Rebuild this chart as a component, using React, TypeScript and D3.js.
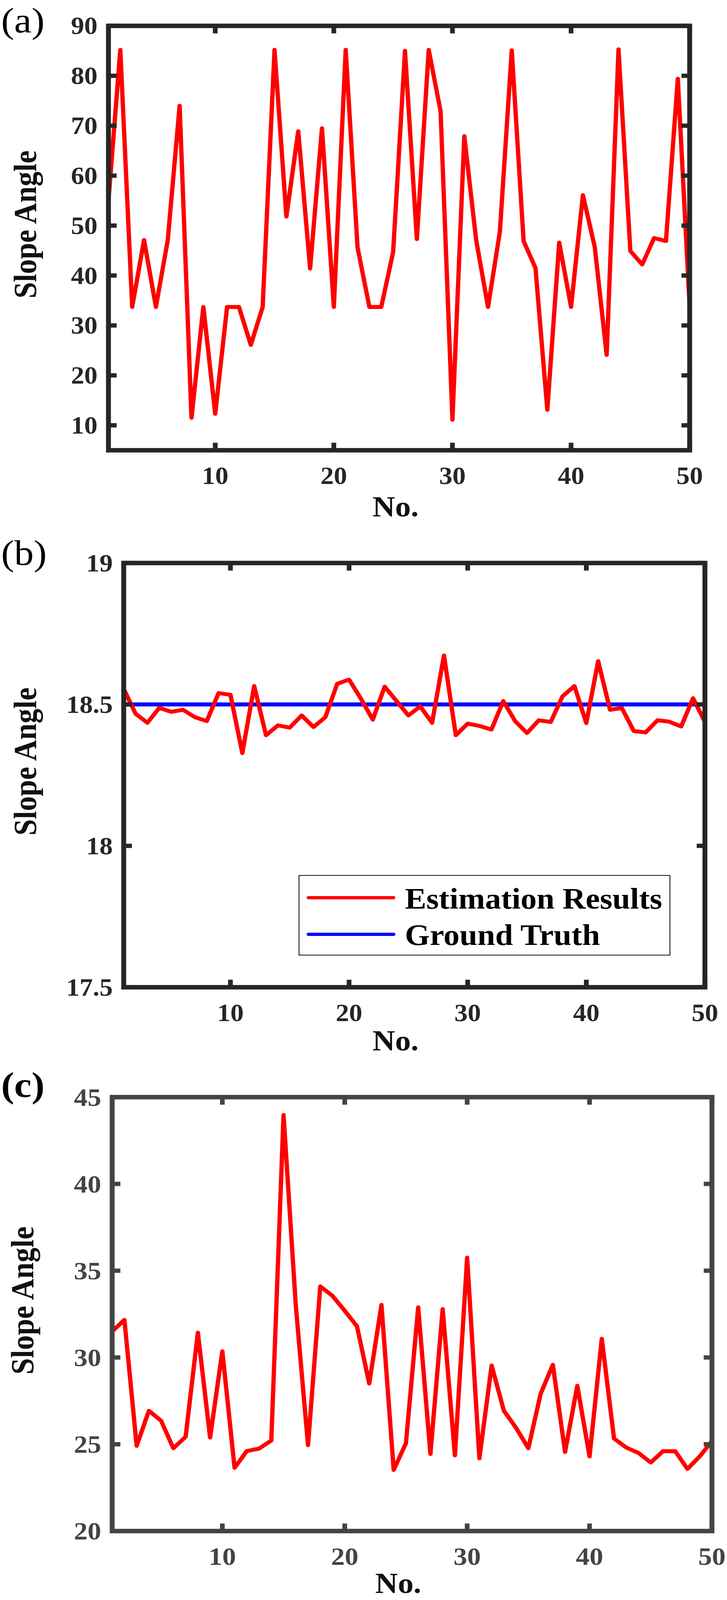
import * as d3 from "d3";

// ---- data ----
const xTicks = [10, 20, 30, 40, 50];

const slopeA = [
  55.0, 85.2, 33.7, 47.1, 33.7, 47.1, 74.0, 11.5, 33.7, 12.3,
  33.7, 33.7, 26.1, 33.7, 85.2, 51.8, 68.9, 41.4, 69.5, 33.7,
  85.2, 45.6, 33.7, 33.7, 44.7, 85.0, 47.3, 85.2, 72.9, 11.1,
  67.9, 47.1, 33.7, 48.8, 85.1, 46.9, 41.5, 13.1, 46.6, 33.7,
  56.1, 45.7, 24.1, 85.3, 44.9, 42.2, 47.5, 46.9, 79.4, 33.7,
];
const yTicksA = [10, 20, 30, 40, 50, 60, 70, 80, 90];

const estimationB = [
  18.555, 18.467, 18.435, 18.488, 18.474, 18.481, 18.455, 18.441, 18.54, 18.534,
  18.328, 18.565, 18.391, 18.426, 18.418, 18.461, 18.42, 18.455, 18.573, 18.588,
  18.52, 18.446, 18.563, 18.512, 18.461, 18.493, 18.435, 18.673, 18.391, 18.432,
  18.424, 18.411, 18.512, 18.441, 18.399, 18.444, 18.438, 18.529, 18.565, 18.434,
  18.653, 18.481, 18.487, 18.406, 18.401, 18.444, 18.439, 18.422, 18.522, 18.438,
];
const groundTruthB = 18.5;
const yTicksB = [17.5, 18, 18.5, 19];
const legendB = ["Estimation Results", "Ground Truth"];

const slopeC = [
  31.5, 32.17, 24.91, 26.93, 26.35, 24.77, 25.43, 31.43, 25.39, 30.36,
  23.64, 24.61, 24.75, 25.22, 43.97, 33.0, 24.95, 34.1, 33.55, 32.69,
  31.8, 28.5, 33.03, 23.52, 25.06, 32.89, 24.44, 32.79, 24.36, 35.75,
  24.19, 29.54, 26.93, 25.94, 24.77, 27.9, 29.58, 24.56, 28.37, 24.3,
  31.08, 25.33, 24.81, 24.5, 23.95, 24.6, 24.6, 23.58, 24.3, 25.18,
];
const yTicksC = [20, 25, 30, 35, 40, 45];

const W = 1860;
const H = 4456;
const SERIF = "'Liberation Serif', 'Times New Roman', serif";

type Box = { left: number; right: number; top: number; bottom: number };

function Panel(props: {
  id: string;
  tag: string;
  tagY: number;
  tagBold?: boolean;
  box: Box;
  yDomain: [number, number];
  yTicks: number[];
  series: number[];
  truth?: number;
  axisColor: string;
  tickFont: number;
  xLabelX: number;
  xLabelY: number;
  yLabelX: number;
  legend?: boolean;
}) {
  const { box } = props;
  const x = d3.scaleLinear().domain([1, 50]).range([box.left, box.right]);
  const y = d3.scaleLinear().domain(props.yDomain).range([box.bottom, box.top]);
  const line = d3
    .line<number>()
    .x((_, i) => x(i + 1))
    .y((d) => y(d));
  const tickLen = 21;
  const midY = (box.top + box.bottom) / 2 - 38;

  return (
    <g>
      <defs>
        <clipPath id={`clip-${props.id}`}>
          <rect x={box.left} y={box.top} width={box.right - box.left} height={box.bottom - box.top} />
        </clipPath>
      </defs>

      <text
        x={3}
        y={props.tagY}
        fontFamily={SERIF}
        fontSize={100}
        fontWeight={props.tagBold ? "bold" : "normal"}
        fill="#000"
      >
        {props.tag}
      </text>

      <g clipPath={`url(#clip-${props.id})`}>
        {props.truth !== undefined && (
          <line
            x1={x(1)}
            x2={x(50)}
            y1={y(props.truth)}
            y2={y(props.truth)}
            stroke="#0000ff"
            strokeWidth={11}
          />
        )}
        <path
          d={line(props.series) ?? ""}
          fill="none"
          stroke="#ff0000"
          strokeWidth={11}
          strokeLinejoin="round"
          strokeLinecap="round"
        />
      </g>

      {/* ticks */}
      {xTicks.map((t) => (
        <g key={`xt${t}`}>
          <line x1={x(t)} x2={x(t)} y1={box.bottom} y2={box.bottom - tickLen} stroke={props.axisColor} strokeWidth={12} />
          <line x1={x(t)} x2={x(t)} y1={box.top} y2={box.top + tickLen} stroke={props.axisColor} strokeWidth={12} />
          <text
            x={x(t)}
            y={box.bottom + 94}
            textAnchor="middle"
            fontFamily={SERIF}
            fontWeight="bold"
            fontSize={props.tickFont}
            fill={props.axisColor}
          >
            {t}
          </text>
        </g>
      ))}
      {props.yTicks.map((t) => (
        <g key={`yt${t}`}>
          <line x1={box.left} x2={box.left + tickLen} y1={y(t)} y2={y(t)} stroke={props.axisColor} strokeWidth={12} />
          <line x1={box.right} x2={box.right - tickLen} y1={y(t)} y2={y(t)} stroke={props.axisColor} strokeWidth={12} />
          <text
            x={box.left - 28}
            y={y(t)}
            dy="0.34em"
            textAnchor="end"
            fontFamily={SERIF}
            fontWeight="bold"
            fontSize={props.tickFont}
            fill={props.axisColor}
          >
            {String(t)}
          </text>
        </g>
      ))}

      <rect
        x={box.left}
        y={box.top}
        width={box.right - box.left}
        height={box.bottom - box.top}
        fill="none"
        stroke={props.axisColor}
        strokeWidth={12.5}
      />

      <text
        x={props.xLabelX}
        y={props.xLabelY}
        textAnchor="middle"
        fontFamily={SERIF}
        fontWeight="bold"
        fontSize={80}
        fill="#111"
      >
        No.
      </text>
      <text
        transform={`translate(${props.yLabelX},${midY}) rotate(-90)`}
        textAnchor="middle"
        fontFamily={SERIF}
        fontWeight="bold"
        fontSize={82}
        fill="#111"
      >
        Slope Angle
      </text>

      {props.legend && (
        <g>
          <rect x={765} y={2438} width={949} height={222} fill="#fff" stroke="#000" strokeWidth={2} />
          <line x1={789} x2={1007} y1={2500} y2={2500} stroke="#ff0000" strokeWidth={9} strokeLinecap="round" />
          <line x1={789} x2={1007} y1={2602} y2={2602} stroke="#0000ff" strokeWidth={9} strokeLinecap="round" />
          {legendB.map((label, i) => (
            <text
              key={label}
              x={1036}
              y={2530 + i * 102}
              fontFamily={SERIF}
              fontWeight="bold"
              fontSize={82}
              fill="#000"
            >
              {label}
            </text>
          ))}
        </g>
      )}
    </g>
  );
}

export default function App() {
  // the svg fills the viewport so the whole figure stays visible
  return (
    <div style={{ position: "fixed", left: 0, top: 0, width: "100vw", height: "100vh", background: "#fff" }}>
      <svg
        width="100%"
        height="100%"
        viewBox={`0 0 ${W} ${H}`}
        preserveAspectRatio="none"
        style={{ display: "block" }}
      >
        <rect width={W} height={H} fill="#fff" />
        <Panel
          id="a"
          tag="(a)"
          tagY={90}
          box={{ left: 277.5, right: 1764.5, top: 72, bottom: 1254 }}
          yDomain={[5, 90]}
          yTicks={yTicksA}
          series={slopeA}
          axisColor="#262626"
          tickFont={68}
          xLabelX={1012}
          xLabelY={1438}
          yLabelX={92}
        />
        <Panel
          id="b"
          tag="(b)"
          tagY={1573}
          box={{ left: 316.5, right: 1803.5, top: 1568, bottom: 2749.5 }}
          yDomain={[17.5, 19]}
          yTicks={yTicksB}
          series={estimationB}
          truth={groundTruthB}
          axisColor="#262626"
          tickFont={68}
          xLabelX={1012}
          xLabelY={2925}
          yLabelX={92}
          legend
        />
        <Panel
          id="c"
          tag="(c)"
          tagY={3055}
          tagBold
          box={{ left: 287, right: 1821.5, top: 3055.5, bottom: 4264 }}
          yDomain={[20, 45]}
          yTicks={yTicksC}
          series={slopeC}
          axisColor="#444444"
          tickFont={70}
          xLabelX={1019}
          xLabelY={4436}
          yLabelX={85}
        />
      </svg>
    </div>
  );
}
